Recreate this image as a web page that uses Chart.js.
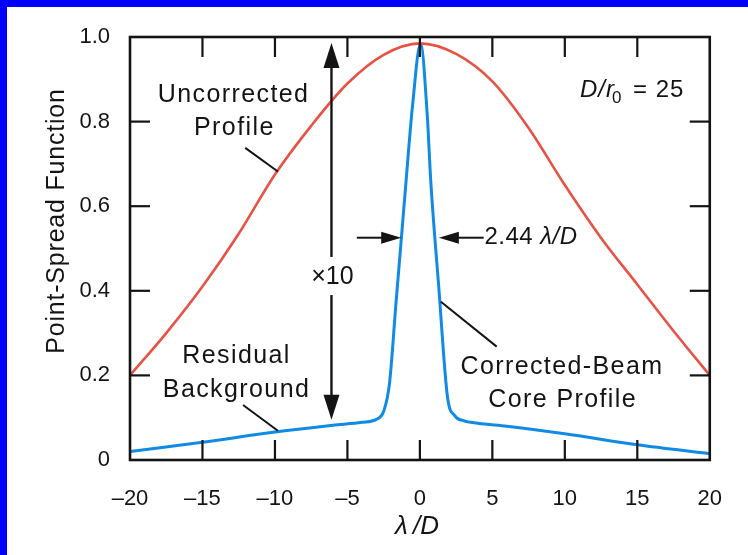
<!DOCTYPE html>
<html>
<head>
<meta charset="utf-8">
<script src="https://cdn.jsdelivr.net/npm/chart.js@4/dist/chart.umd.min.js"></script>
<style>
  html, body { margin: 0; padding: 0; background: #fff; }
  #wrap { position: relative; width: 748px; height: 555px; }
</style>
</head>
<body>
<div id="wrap"><canvas id="psfChart" width="748" height="555"></canvas></div>
<script>
// uncorrected (seeing-limited) profile, x in lambda/D
var uncorrectedX = [-20, -17.5, -15, -12.5, -10, -7.5, -5, -2.5, 0, 2.5, 5, 7.5, 10, 12.5, 15, 17.5, 20];
var uncorrectedY = [0.20, 0.30, 0.41, 0.535, 0.675, 0.79, 0.89, 0.958, 0.985, 0.96, 0.895, 0.785, 0.65, 0.525, 0.415, 0.305, 0.20];

// corrected beam: narrow core on a residual halo
var correctedX = [-20, -15, -10, -6, -4, -3, -2.5, -2.1, -1.65, -1.0, -0.5, 0.05, 0.5, 0.75, 1.3, 1.9, 2.4, 3, 4, 6, 10, 15, 20];
var correctedY = [0.02, 0.042, 0.066, 0.082, 0.089, 0.096, 0.115, 0.18, 0.37, 0.64, 0.84, 0.985, 0.82, 0.66, 0.41, 0.15, 0.105, 0.093, 0.087, 0.08, 0.062, 0.036, 0.015];

var xTicks = [-20, -15, -10, -5, 0, 5, 10, 15, 20];
var yTicks = [0, 0.2, 0.4, 0.6, 0.8, 1.0];

var FONT = '"Liberation Sans", Arial, Helvetica, sans-serif';
var INK = '#141414';

function toPoints(xs, ys) {
    return xs.map(function (x, i) { return { x: x, y: ys[i] }; });
}

function arrowHead(ctx, tx, ty, dx, dy, len, half) {
    // filled triangle with its tip at (tx, ty), pointing along (dx, dy)
    var bx = tx - dx * len, by = ty - dy * len;
    ctx.beginPath();
    ctx.moveTo(tx, ty);
    ctx.lineTo(bx - dy * half, by + dx * half);
    ctx.lineTo(bx + dy * half, by - dx * half);
    ctx.closePath();
    ctx.fill();
}

function line(ctx, x1, y1, x2, y2, w) {
    ctx.lineWidth = w;
    ctx.beginPath();
    ctx.moveTo(x1, y1);
    ctx.lineTo(x2, y2);
    ctx.stroke();
}

var decorations = {
    id: 'decorations',
    beforeDraw: function (chart) {
        var ctx = chart.ctx;
        ctx.save();
        ctx.fillStyle = '#0000fc';
        ctx.fillRect(0, 0, 7, chart.height);
        ctx.fillRect(0, 0, chart.width, 7);
        ctx.restore();
    },
    afterDatasetsDraw: function (chart) {
        var ctx = chart.ctx;
        var a = chart.chartArea;
        var sx = chart.scales.x, sy = chart.scales.y;
        var X = function (v) { return sx.getPixelForValue(v); };
        var Y = function (v) { return sy.getPixelForValue(v); };

        ctx.save();
        ctx.strokeStyle = INK;
        ctx.fillStyle = INK;
        ctx.lineCap = 'butt';

        // frame
        ctx.lineWidth = 2.6;
        ctx.strokeRect(a.left, a.top, a.right - a.left, a.bottom - a.top);

        // inward ticks on all four sides
        var tl = 20;
        xTicks.slice(1, -1).forEach(function (v) {
            var x = X(v);
            line(ctx, x, a.bottom, x, a.bottom - tl, 2.2);
            line(ctx, x, a.top, x, a.top + tl, 2.2);
        });
        yTicks.slice(1, -1).forEach(function (v) {
            var y = Y(v);
            line(ctx, a.left, y, a.left + tl, y, 2.2);
            line(ctx, a.right, y, a.right - tl, y, 2.2);
        });

        // axis titles
        ctx.textAlign = 'center';
        ctx.textBaseline = 'middle';
        ctx.save();
        ctx.translate(57, Y(0.565));
        ctx.rotate(-Math.PI / 2);
        ctx.font = '25px ' + FONT;
        ctx.letterSpacing = '0.8px';
        ctx.fillText('Point-Spread Function', 0, 0);
        ctx.restore();

        ctx.font = 'italic 26px ' + FONT;
        ctx.fillText('\u03bb\u2009/D', X(-0.2), 527);

        // curve labels
        ctx.font = '25px ' + FONT;
        ctx.letterSpacing = '1.4px';
        ctx.fillText('Uncorrected', X(-12.85), Y(0.862));
        ctx.fillText('Profile', X(-12.8), Y(0.785));
        ctx.fillText('Residual', X(-12.65), Y(0.246));
        ctx.fillText('Background', X(-12.65), Y(0.165));
        ctx.fillText('Corrected-Beam', X(9.8), Y(0.22));
        ctx.fillText('Core Profile', X(9.85), Y(0.142));

        // leader lines
        line(ctx, X(-12.05), Y(0.738), X(-9.8), Y(0.682), 2);
        line(ctx, X(-12.2), Y(0.13), X(-9.8), Y(0.069), 2);
        line(ctx, X(1.45), Y(0.374), X(5.3), Y(0.268), 2);

        // x10 double arrow between halo and uncorrected peak
        var ax = X(-6.1);
        var top = Y(0.986), bot = Y(0.095);
        line(ctx, ax, top + 20, ax, Y(0.48), 2.4);
        line(ctx, ax, Y(0.39), ax, bot - 20, 2.4);
        arrowHead(ctx, ax, top, 0, -1, 25, 8);
        arrowHead(ctx, ax, bot, 0, 1, 25, 8);
        ctx.letterSpacing = '0px';
        ctx.font = '25px ' + FONT;
        ctx.fillText('\u00d710', ax + 1, Y(0.433));

        // core width marker
        var wy = Y(0.5255);
        line(ctx, X(-4.35), wy, X(-1.29) - 14, wy, 2);
        arrowHead(ctx, X(-1.29), wy, 1, 0, 20, 6);
        line(ctx, X(1.31) + 14, wy, X(4.4), wy, 2);
        arrowHead(ctx, X(1.31), wy, -1, 0, 20, 6);

        ctx.textAlign = 'left';
        ctx.font = '24px ' + FONT;
        ctx.letterSpacing = '0.5px';
        var tx = X(4.45);
        ctx.fillText('2.44 ', tx, wy);
        tx += ctx.measureText('2.44 ').width;
        ctx.font = 'italic 24px ' + FONT;
        ctx.fillText('\u03bb/D', tx, wy);

        // aperture to Fried parameter ratio
        var ly = Y(0.875);
        tx = X(11.05);
        ctx.font = 'italic 24px ' + FONT;
        ctx.letterSpacing = '1px';
        ctx.fillText('D/r', tx, ly);
        tx += ctx.measureText('D/r').width;
        ctx.font = '17px ' + FONT;
        ctx.fillText('0', tx - 3, ly + 8);
        tx += 18;
        ctx.font = '24px ' + FONT;
        ctx.fillText('= 25', tx, ly);

        ctx.restore();
    }
};

function init_psf() {
    var ctx = document.getElementById('psfChart').getContext('2d');
    return new Chart(ctx, {
        type: 'line',
        data: {
            datasets: [
                {
                    label: 'Uncorrected Profile',
                    data: toPoints(uncorrectedX, uncorrectedY),
                    borderColor: 'rgb(232, 82, 68)',
                    borderWidth: 2.6,
                    pointRadius: 0,
                    fill: false,
                    cubicInterpolationMode: 'monotone'
                },
                {
                    label: 'Corrected-Beam Core Profile',
                    data: toPoints(correctedX, correctedY),
                    borderColor: 'rgb(16, 138, 226)',
                    borderWidth: 3,
                    pointRadius: 0,
                    fill: false,
                    cubicInterpolationMode: 'monotone'
                }
            ]
        },
        options: {
            responsive: false,
            animation: false,
            devicePixelRatio: 1,
            layout: { padding: { left: 0, top: 37, right: 30, bottom: 0 } },
            plugins: {
                legend: { display: false },
                tooltip: { enabled: false }
            },
            scales: {
                x: {
                    type: 'linear',
                    min: -20,
                    max: 20,
                    grid: { display: false, drawTicks: false },
                    border: { display: false },
                    afterBuildTicks: function (scale) {
                        scale.ticks = xTicks.map(function (v) { return { value: v }; });
                    },
                    afterFit: function (scale) { scale.height = 95; },
                    ticks: {
                        padding: 26,
                        color: INK,
                        maxRotation: 0,
                        font: { family: FONT, size: 22 },
                        callback: function (v) { return v < 0 ? '\u2013' + Math.abs(v) : String(v); }
                    }
                },
                y: {
                    type: 'linear',
                    min: 0,
                    max: 1,
                    grid: { display: false, drawTicks: false },
                    border: { display: false },
                    afterBuildTicks: function (scale) {
                        scale.ticks = yTicks.map(function (v) { return { value: v }; });
                    },
                    afterFit: function (scale) { scale.width = 130; },
                    ticks: {
                        padding: 20,
                        color: INK,
                        font: { family: FONT, size: 22 },
                        callback: function (v) { return v === 0 ? '0' : v.toFixed(1); }
                    }
                }
            }
        },
        plugins: [decorations]
    });
}

init_psf();
</script>
</body>
</html>
